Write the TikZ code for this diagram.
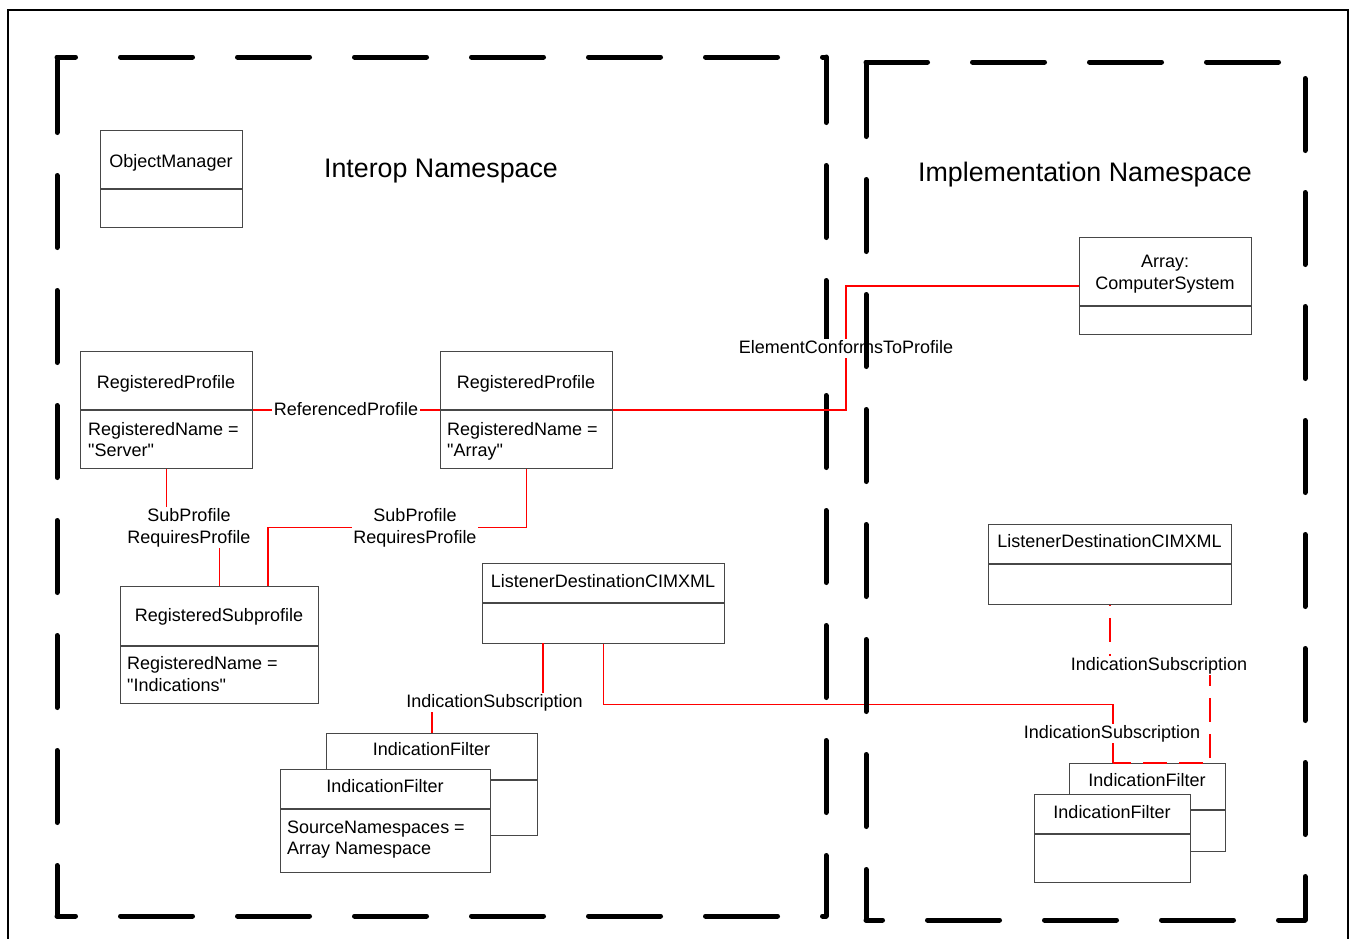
\documentclass[tikz,border=0pt]{standalone}
\usepackage{fontspec}
\setmainfont{Liberation Sans}
\begin{document}
\begin{tikzpicture}[x=1pt,y=-1pt,
  every node/.style={font=\fontsize{18}{21.5}\selectfont, text=black},
  box/.style={draw=black!72, line width=1.3pt, fill=white, rectangle, inner sep=0pt, anchor=north west},
  div/.style={draw=black!72, line width=1.3pt},
  hdr/.style={anchor=base, inner sep=0pt},
  attr/.style={anchor=north west, inner sep=0pt, align=left},
  conn/.style={draw=red, line width=1.4pt},
  dconn/.style={draw=red, line width=2.4pt, dash pattern=on 24pt off 12pt, dash phase=23.5pt},
  lbl/.style={fill=white, inner sep=1.5pt, text height=13pt, text depth=3.8pt},
  lbltwo/.style={fill=white, inner sep=1.5pt, align=center},
  ttl/.style={font=\fontsize{26.8}{30}\selectfont, anchor=base, inner sep=0pt},
  ns/.style={draw=black, line width=5pt, line cap=round},
  frame/.style={draw=black, line width=1.8pt}]

\useasboundingbox (0,0) rectangle (1353,938);
\fill[white] (0,0) rectangle (1353,938);

% outer frame
\draw[frame] (8,10) rectangle (1348,960);

% left namespace frame
\draw[ns, dash pattern=on 72pt off 45pt, dash phase=53.5pt] (57,57) -- (826,57);
\draw[ns, dash pattern=on 72pt off 45pt, dash phase=53.5pt] (57,916) -- (826,916);
\draw[ns, dash pattern=on 72pt off 43pt, dash phase=111.5pt] (57,57) -- (57,916);
\draw[ns, dash pattern=on 72pt off 43pt, dash phase=6.5pt] (826,57) -- (826,916);

% titles
\node[ttl] (t-interop) at (441,177.2) {Interop Namespace};
\node[ttl] (t-impl) at (1085,181.2) {Implementation Namespace};

% ---------- boxes ----------
% ObjectManager
\node[box, minimum width=142pt, minimum height=97pt] (om) at (100,130) {};
\draw[div] (100,189) -- (242,189);
\node[hdr] (om-h) at (171,167) {ObjectManager};

% RegisteredProfile (Server)
\node[box, minimum width=172pt, minimum height=117pt] (rp1) at (80,351) {};
\draw[div] (80,410) -- (252,410);
\node[hdr] (rp1-h) at (166,388) {RegisteredProfile};
\node[attr] (rp1-a) at (88,422.1) {RegisteredName =\\\textquotedbl Server\textquotedbl};

% RegisteredProfile (Array)
\node[box, minimum width=172pt, minimum height=117pt] (rp2) at (440,351) {};
\draw[div] (440,410) -- (612,410);
\node[hdr] (rp2-h) at (526,388) {RegisteredProfile};
\node[attr] (rp2-a) at (447,422.1) {RegisteredName =\\\textquotedbl Array\textquotedbl};

% RegisteredSubprofile
\node[box, minimum width=198pt, minimum height=117pt] (sub) at (120,586) {};
\draw[div] (120,646) -- (318,646);
\node[hdr] (sub-h) at (219,621.5) {RegisteredSubprofile};
\node[attr] (sub-a) at (127,656.6) {RegisteredName =\\\textquotedbl Indications\textquotedbl};

% ListenerDestinationCIMXML (left)
\node[box, minimum width=242pt, minimum height=80pt] (ld1) at (482,563) {};
\draw[div] (482,603) -- (724,603);
\node[hdr] (ld1-h) at (603,587.5) {ListenerDestinationCIMXML};

% IndicationFilter (left, back)
\node[box, minimum width=211pt, minimum height=102pt] (if1b) at (326,733) {};
\draw[div] (326,780) -- (537,780);
\node[hdr] (if1b-h) at (431.5,755.5) {IndicationFilter};

% IndicationFilter (left, front)
\node[box, minimum width=210pt, minimum height=103pt] (if1) at (280,769) {};
\draw[div] (280,809) -- (490,809);
\node[hdr] (if1-h) at (385,792) {IndicationFilter};
\node[attr] (if1-a) at (287,820.4) {SourceNamespaces =\\Array Namespace};

% Array: ComputerSystem
\node[box, minimum width=172pt, minimum height=97pt] (cs) at (1079,237) {};
\draw[div] (1079,306) -- (1251,306);
\node[anchor=north, inner sep=0pt, align=center] (cs-h) at (1165,255.1) {Array:\\ComputerSystem};

% ListenerDestinationCIMXML (right)
\node[box, minimum width=243pt, minimum height=80pt] (ld2) at (988,524) {};
\draw[div] (988,564) -- (1231,564);
\node[hdr] (ld2-h) at (1109.5,547.5) {ListenerDestinationCIMXML};

% IndicationFilter (right, back)
\node[box, minimum width=156pt, minimum height=88pt] (if2b) at (1069,763) {};
\draw[div] (1069,810) -- (1225,810);
\node[hdr] (if2b-h) at (1147,786) {IndicationFilter};

% IndicationFilter (right, front)
\node[box, minimum width=156pt, minimum height=88pt] (if2) at (1034,794) {};
\draw[div] (1034,834) -- (1190,834);
\node[hdr] (if2-h) at (1112,818) {IndicationFilter};

% ---------- connector coordinates ----------
\coordinate (lab1) at (346,410.5);
\coordinate (lab2a) at (189,527.7);
\coordinate (lab2b) at (415,527.7);
\coordinate (lab3) at (846,348.4);
\coordinate (lab4) at (494.5,702.4);
\coordinate (lab5) at (1112,733.4);
\coordinate (lab6) at (1159,665.4);
\coordinate (s2) at (268,586);
\coordinate (p4) at (543,643);
\coordinate (e5) at (1113,763);
\coordinate (e6) at (1210,763);

% ---------- connectors ----------
\draw[conn] (rp1.east) -- (rp2.west);
\draw[conn] (rp1.south) |- (lab2a) -| (sub.north);
\draw[conn] (rp2.south) |- (lab2b) -| (s2);
\draw[conn] (rp2.east) -| (lab3) |- (cs.west);
\draw[conn] (p4) |- (lab4) -| (if1b.north);
\draw[conn] (ld1.south) -- ++(0,60) -| (e5);
\draw[dconn] (ld2.south) |- (lab6) -| (e6) -- (e5);

% ---------- labels ----------
\node[lbl] (l1) at (lab1) {ReferencedProfile};
\node[lbltwo] (l2a) at (lab2a) {SubProfile\\RequiresProfile};
\node[lbltwo] (l2b) at (lab2b) {SubProfile\\RequiresProfile};
\node[lbl] (l3) at (lab3) {ElementConformsToProfile};
\node[lbl] (l4) at (lab4) {IndicationSubscription};
\node[lbl] (l5) at (lab5) {IndicationSubscription};
\node[lbl] (l6) at (lab6) {IndicationSubscription};

% right namespace frame (drawn on top)
\draw[ns, dash pattern=on 72pt off 43pt, dash phase=112.5pt] (866,62) -- (866,920);
\draw[ns, dash pattern=on 72pt off 45pt, dash phase=10.5pt] (866,62) -- (1305,62);
\draw[ns, dash pattern=on 72pt off 42pt, dash phase=97.5pt] (1305,62) -- (1305,920);
\draw[ns, dash pattern=on 72pt off 45pt, dash phase=55.5pt] (866,920) -- (1305,920);
\end{tikzpicture}
\end{document}
